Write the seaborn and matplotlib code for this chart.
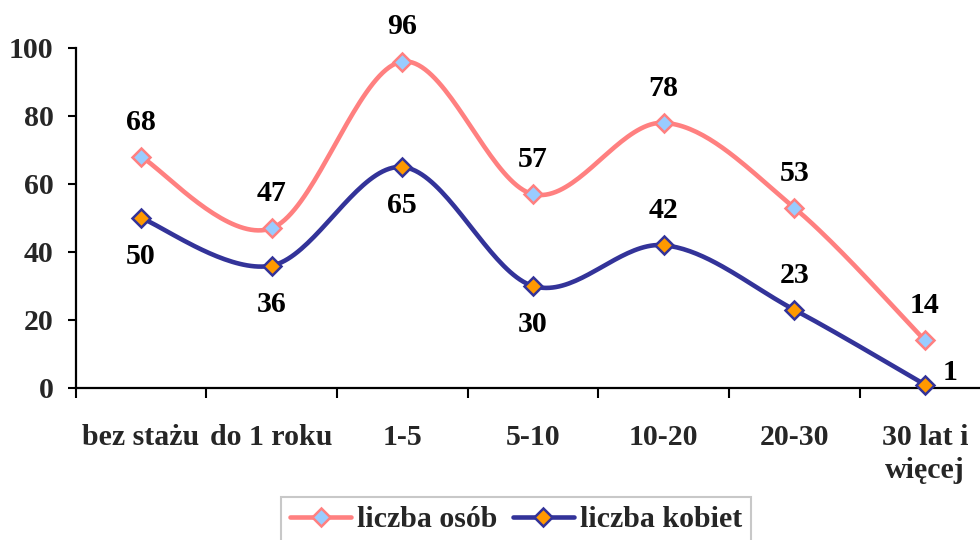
import numpy as np
import pandas as pd
import matplotlib
matplotlib.use("Agg")
import matplotlib.pyplot as plt
from matplotlib.lines import Line2D
import seaborn as sns

categories = ["bez stażu", "do 1 roku", "1-5", "5-10", "10-20", "20-30", "30 lat i\nwięcej"]
liczba_osob = [68, 47, 96, 57, 78, 53, 14]
liczba_kobiet = [50, 36, 65, 30, 42, 23, 1]
series_names = ["liczba osób", "liczba kobiet"]
y_ticks = [0, 20, 40, 60, 80, 100]

# label placement per point (style only)
place_osob = ["above"] * 7
place_kobiet = ["below", "below", "below", "below", "above", "above", "right"]

sns.set_style("white")
plt.rcParams["font.family"] = ["Liberation Serif", "DejaVu Serif"]
plt.rcParams["font.weight"] = "bold"

PINK = "#FF8080"
LBLUE = "#99CCFF"
NAVY = "#333399"
ORANGE = "#FF9900"
FS = 21.5


def smooth(xv, yv, n=40):
    """Catmull-Rom style smoothing (like Excel's smoothed line) for rendering."""
    xv = np.asarray(xv, float)
    yv = np.asarray(yv, float)
    P = np.column_stack([xv, yv])
    out = []
    for i in range(len(P) - 1):
        p0 = P[i - 1] if i > 0 else P[i]
        p1, p2 = P[i], P[i + 1]
        p3 = P[i + 2] if i + 2 < len(P) else P[i + 1]
        c1 = p1 + (p2 - p0) / 6.0
        c2 = p2 - (p3 - p1) / 6.0
        t = np.linspace(0, 1, n, endpoint=(i == len(P) - 2))[:, None]
        b = ((1 - t) ** 3) * p1 + 3 * ((1 - t) ** 2) * t * c1 + 3 * (1 - t) * t ** 2 * c2 + t ** 3 * p2
        out.append(b)
    out = np.vstack(out)
    return out[:, 0], out[:, 1]


fig = plt.figure(figsize=(9.8, 5.4), dpi=100)
ax = fig.add_axes([75.7 / 980, (540 - 388) / 540, 914.6 / 980, 340 / 540])

xpos = np.arange(len(categories))
frames = []
for name, vals in zip(series_names, [liczba_osob, liczba_kobiet]):
    sx, sy = smooth(xpos, vals)
    frames.append(pd.DataFrame({"x": sx, "y": sy, "series": name}))
curve = pd.concat(frames, ignore_index=True)

sns.lineplot(data=curve, x="x", y="y", hue="series", palette={series_names[0]: PINK, series_names[1]: NAVY},
             sort=False, estimator=None, lw=3.3, ax=ax, legend=False)

pts = pd.DataFrame({"x": np.concatenate([xpos, xpos]),
                    "y": liczba_osob + liczba_kobiet,
                    "series": [series_names[0]] * 7 + [series_names[1]] * 7})
for name, fc, ec in [(series_names[0], LBLUE, PINK), (series_names[1], ORANGE, NAVY)]:
    d = pts[pts.series == name]
    ax.plot(d.x, d.y, ls="none", marker="D", ms=9.5, mfc=fc, mec=ec, mew=1.8, clip_on=False, zorder=5)

offsets = {"above": (0, 25, "center", "center"), "below": (0, -28, "center", "center"),
           "right": (18, 9, "center", "center")}
for vals, places in [(liczba_osob, place_osob), (liczba_kobiet, place_kobiet)]:
    for xi, v, p in zip(xpos, vals, places):
        dx, dy, ha, va = offsets[p]
        ax.annotate(str(v), (xi, v), xytext=(dx, dy), textcoords="offset points",
                    ha=ha, va=va, fontsize=FS, fontweight="bold", color="black", zorder=6)

ax.set_xlim(-0.5, len(categories) - 0.5)
ax.set_ylim(0, 100)
ax.set_yticks(y_ticks)
ax.set_yticklabels([str(t) for t in y_ticks], fontsize=FS, fontweight="bold")
ax.set_xticks(np.arange(-0.5, len(categories), 1.0))
ax.set_xticklabels([])
ax.set_xticks(xpos, minor=True)
ax.set_xticklabels(categories, minor=True, fontsize=FS, fontweight="bold", linespacing=1.3)
ax.tick_params(axis="x", which="major", length=7, width=1.5, direction="out", bottom=True, color="black")
ax.tick_params(axis="x", which="minor", length=0, pad=26, bottom=True)
ax.tick_params(axis="y", length=6, width=1.5, direction="out", pad=10, left=True, color="black")
ax.set_xlabel("")
ax.set_ylabel("")
for s in ["top", "right"]:
    ax.spines[s].set_visible(False)
for s in ["left", "bottom"]:
    ax.spines[s].set_color("black")
    ax.spines[s].set_linewidth(1.6)
ax.grid(False)

handles = [Line2D([], [], color=PINK, lw=3.3, marker="D", ms=9.5, mfc=LBLUE, mec=PINK, mew=1.8),
           Line2D([], [], color=NAVY, lw=3.3, marker="D", ms=9.5, mfc=ORANGE, mec=NAVY, mew=1.8)]
leg = fig.legend(handles, series_names, loc="upper center", bbox_to_anchor=(516 / 980, 43 / 540),
                 ncol=2, frameon=True, fancybox=False, shadow=False,
                 prop={"weight": "bold", "size": FS}, handlelength=2.05, handletextpad=0.2,
                 columnspacing=0.5, borderpad=0.3, borderaxespad=0)
leg.get_frame().set_edgecolor("#BBBBBB")
leg.get_frame().set_linewidth(1.5)

fig.savefig("out.png", dpi=100)
